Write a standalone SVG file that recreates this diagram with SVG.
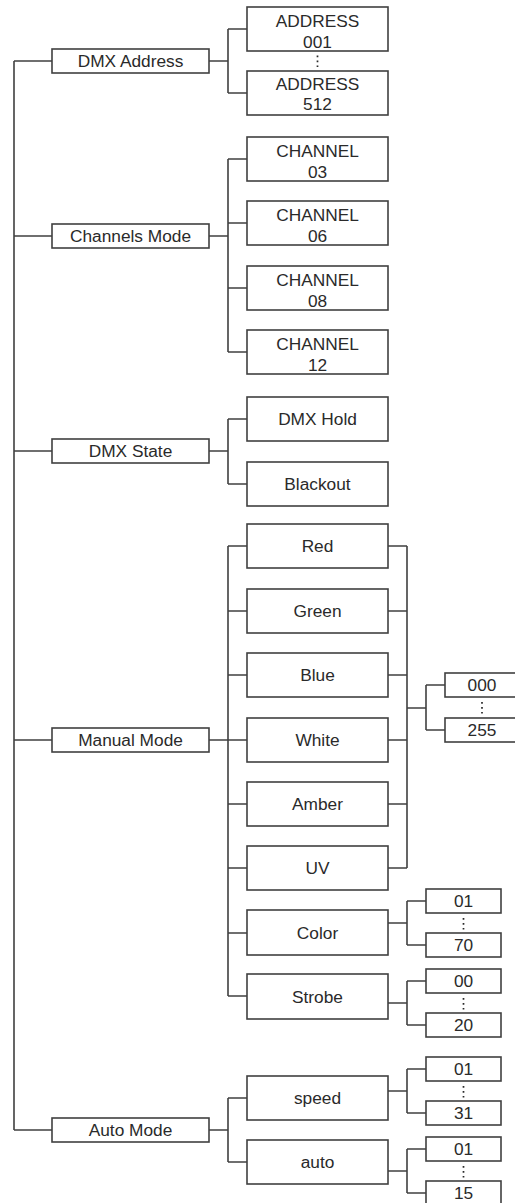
<svg xmlns="http://www.w3.org/2000/svg" width="515" height="1203" viewBox="0 0 515 1203">
<style>
rect{fill:#fff;stroke:#404040;stroke-width:1.6}
text{font-family:"Liberation Sans",Arial,sans-serif;font-size:17.3px;fill:#2a2a2a;text-anchor:middle}
#connectors path{fill:none;stroke:#404040;stroke-width:1.6}
.dots{stroke:#2a2a2a;stroke-width:1.7;stroke-dasharray:1.7 3.3;fill:none}
</style>
<rect x="0" y="0" width="515" height="1203" style="stroke:none;fill:#fff"/>
<g id="connectors">
<path d="M14 61V1130M14 61H52M14 236H52M14 451H52M14 740H52M14 1130H52"/>
<path d="M209 61H228M228 29V93M228 29H247M228 93H247"/>
<path d="M209 236H228M228 159V352M228 159H247M228 223H247M228 288H247M228 352H247"/>
<path d="M209 451H228M228 419V484M228 419H247M228 484H247"/>
<path d="M209 740H228M228 546V996M228 546H247M228 611H247M228 675H247M228 740H247M228 804H247M228 868H247M228 933H247M228 996H247"/>
<path d="M388 546H407M388 611H407M388 675H407M388 740H407M388 804H407M388 868H407M407 546V868M407 708H426M426 685V730M426 685H445M426 730H445"/>
<path d="M388 923H407M407 901V945M407 901H426M407 945H426"/>
<path d="M388 1003H407M407 981V1025M407 981H426M407 1025H426"/>
<path d="M209 1130H228M228 1098V1162M228 1098H247M228 1162H247"/>
<path d="M388 1091H407M407 1069V1113M407 1069H426M407 1113H426"/>
<path d="M388 1171H407M407 1149V1193M407 1149H426M407 1193H426"/>
</g>
<g id="dmx-address"><rect x="52" y="49" width="157" height="24"/><text x="130.5" y="67">DMX Address</text></g>
<g id="channels-mode"><rect x="52" y="224" width="157" height="24"/><text x="130.5" y="242">Channels Mode</text></g>
<g id="dmx-state"><rect x="52" y="439" width="157" height="24"/><text x="130.5" y="457">DMX State</text></g>
<g id="manual-mode"><rect x="52" y="728" width="157" height="24"/><text x="130.5" y="746">Manual Mode</text></g>
<g id="auto-mode"><rect x="52" y="1118" width="157" height="24"/><text x="130.5" y="1136">Auto Mode</text></g>

<g id="address-001"><rect x="247" y="7" width="141" height="44"/><text x="317.5" y="27">ADDRESS</text><text x="317.5" y="48">001</text></g>
<g id="address-512"><rect x="247" y="71" width="141" height="44"/><text x="317.5" y="90">ADDRESS</text><text x="317.5" y="110">512</text></g>
<g id="channel-03"><rect x="247" y="137" width="141" height="44"/><text x="317.5" y="157">CHANNEL</text><text x="317.5" y="178">03</text></g>
<g id="channel-06"><rect x="247" y="201" width="141" height="44"/><text x="317.5" y="221">CHANNEL</text><text x="317.5" y="242">06</text></g>
<g id="channel-08"><rect x="247" y="266" width="141" height="44"/><text x="317.5" y="286">CHANNEL</text><text x="317.5" y="307">08</text></g>
<g id="channel-12"><rect x="247" y="330" width="141" height="44"/><text x="317.5" y="350">CHANNEL</text><text x="317.5" y="371">12</text></g>
<g id="dmx-hold"><rect x="247" y="397" width="141" height="44"/><text x="317.5" y="425">DMX Hold</text></g>
<g id="blackout"><rect x="247" y="462" width="141" height="44"/><text x="317.5" y="490">Blackout</text></g>
<g id="red"><rect x="247" y="524" width="141" height="44"/><text x="317.5" y="552">Red</text></g>
<g id="green"><rect x="247" y="589" width="141" height="44"/><text x="317.5" y="617">Green</text></g>
<g id="blue"><rect x="247" y="653" width="141" height="44"/><text x="317.5" y="681">Blue</text></g>
<g id="white"><rect x="247" y="718" width="141" height="44"/><text x="317.5" y="746">White</text></g>
<g id="amber"><rect x="247" y="782" width="141" height="44"/><text x="317.5" y="810">Amber</text></g>
<g id="uv"><rect x="247" y="846" width="141" height="44"/><text x="317.5" y="874">UV</text></g>
<g id="color"><rect x="247" y="910" width="141" height="45"/><text x="317.5" y="939">Color</text></g>
<g id="strobe"><rect x="247" y="974" width="141" height="45"/><text x="317.5" y="1003">Strobe</text></g>
<g id="speed"><rect x="247" y="1076" width="141" height="44"/><text x="317.5" y="1104">speed</text></g>
<g id="auto"><rect x="247" y="1140" width="141" height="44"/><text x="317.5" y="1168">auto</text></g>

<g id="val-000"><rect x="445" y="673" width="74" height="24"/><text x="482" y="691">000</text></g>
<g id="val-255"><rect x="445" y="718" width="74" height="24"/><text x="482" y="736">255</text></g>
<g id="color-01"><rect x="426" y="889" width="75" height="24"/><text x="463.5" y="907">01</text></g>
<g id="color-70"><rect x="426" y="933" width="75" height="24"/><text x="463.5" y="951">70</text></g>
<g id="strobe-00"><rect x="426" y="969" width="75" height="24"/><text x="463.5" y="987">00</text></g>
<g id="strobe-20"><rect x="426" y="1013" width="75" height="24"/><text x="463.5" y="1031">20</text></g>
<g id="speed-01"><rect x="426" y="1057" width="75" height="24"/><text x="463.5" y="1075">01</text></g>
<g id="speed-31"><rect x="426" y="1101" width="75" height="24"/><text x="463.5" y="1119">31</text></g>
<g id="auto-01"><rect x="426" y="1137" width="75" height="24"/><text x="463.5" y="1155">01</text></g>
<g id="auto-15"><rect x="426" y="1181" width="75" height="24"/><text x="463.5" y="1199">15</text></g>

<g id="ellipses">
<path class="dots" d="M317.5 55.5V67M482 702V713.5M463.5 918V929.5M463.5 998V1009.5M463.5 1086V1097.5M463.5 1166V1177.5"/>
</g>
</svg>
